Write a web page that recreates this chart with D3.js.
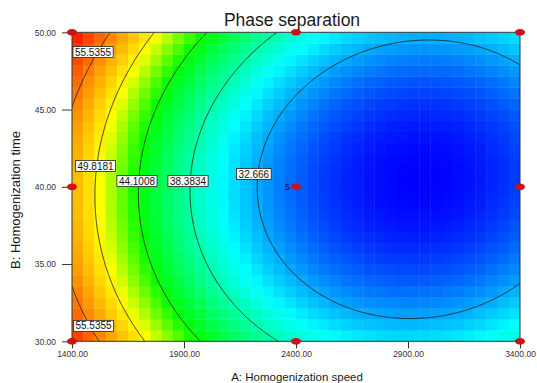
<!DOCTYPE html>
<html><head><meta charset="utf-8">
<script src="https://cdn.jsdelivr.net/npm/d3@7"></script>
<style>
html,body{margin:0;padding:0;background:#fff;}
svg{display:block;font-family:"Liberation Sans",Arial,sans-serif;}
</style></head><body>
<svg id="chart" width="537" height="383"></svg>
<script>
const chartTitle = "Phase separation";
const xTitle = "A: Homogenization speed";
const yTitle = "B: Homogenization time";
const xTicks = [1400, 1900, 2400, 2900, 3400];
const yTicks = [30, 35, 40, 45, 50];
const xDomain = [1400, 3400];
const yDomain = [30, 50];
// fitted quadratic response surface (coded units -1..1): [b0, A, A^2, B, B^2, AB]
const surfaceCoef = [30.258, -12.0, 10.93, -0.12, 7.06, -1.03];
const contourLevels = [32.666, 38.3834, 44.1008, 49.8181, 55.5355];
const labelLevels = [55.5355, 55.5355, 49.8181, 44.1008, 38.3834, 32.666];
const labelA = [1494, 1496, 1505, 1690, 1918, 2212];
const labelB = [48.72, 31.0, 41.35, 40.37, 40.37, 40.83];
const designA = [1400, 1400, 1400, 2400, 2400, 2400, 3400, 3400, 3400];
const designB = [30, 40, 50, 30, 40, 50, 30, 40, 50];
const designReps = [1, 1, 1, 1, 5, 1, 1, 1, 1];
const gridCols = 40, gridRows = 28;
const paletteStops = [0, 0.25, 0.5, 0.65, 1];
const paletteHues = [240, 180, 120, 60, 0];

const svg = d3.select("#chart");
const L = 72, R = 520, T = 32.3, B = 341.3;
const x = d3.scaleLinear().domain(xDomain).range([L, R]);
const y = d3.scaleLinear().domain(yDomain).range([B, T]);

const codeA = v => (v - (xDomain[0] + xDomain[1]) / 2) / ((xDomain[1] - xDomain[0]) / 2);
const codeB = v => (v - (yDomain[0] + yDomain[1]) / 2) / ((yDomain[1] - yDomain[0]) / 2);
function resp(A, Bv) {
  const a = codeA(A), b = codeB(Bv), c = surfaceCoef;
  return c[0] + c[1]*a + c[2]*a*a + c[3]*b + c[4]*b*b + c[5]*a*b;
}
const step = contourLevels[1] - contourLevels[0];
const vMin = contourLevels[0] - step, vMax = contourLevels[contourLevels.length-1] + step;
const norm = d3.scaleLinear().domain([vMin, vMax]).range([0, 1]).clamp(true);
const hue = d3.scaleLinear().domain(paletteStops).range(paletteHues).clamp(true);
const fill = v => d3.hsl(hue(norm(v)), 1, 0.5).toString();

const defs = svg.append("defs");
defs.append("clipPath").attr("id", "plotClip").append("rect")
  .attr("x", L).attr("y", T).attr("width", R - L).attr("height", B - T);

// heat cells
const cells = [];
const dA = (xDomain[1] - xDomain[0]) / gridCols, dB = (yDomain[1] - yDomain[0]) / gridRows;
for (let i = 0; i < gridCols; i++) for (let j = 0; j < gridRows; j++) {
  const a0 = xDomain[0] + i * dA, b0 = yDomain[0] + j * dB;
  cells.push({a0, a1: a0 + dA, b0, b1: b0 + dB, v: resp(a0 + dA/2, b0 + dB/2)});
}
const plot = svg.append("g").attr("clip-path", "url(#plotClip)");
plot.append("g").selectAll("rect").data(cells).join("rect")
  .attr("x", d => x(d.a0)).attr("y", d => y(d.b1))
  .attr("width", d => x(d.a1) - x(d.a0) + 0.4)
  .attr("height", d => y(d.b0) - y(d.b1) + 0.4)
  .attr("fill", d => fill(d.v));

// contour lines
const n = 240, m = 180;
const ext = 0.05;
const gA0 = xDomain[0] - ext*(xDomain[1]-xDomain[0]), gA1 = xDomain[1] + ext*(xDomain[1]-xDomain[0]);
const gB0 = yDomain[1] + ext*(yDomain[1]-yDomain[0]), gB1 = yDomain[0] - ext*(yDomain[1]-yDomain[0]);
const gx = d3.scaleLinear().domain([0, n]).range([gA0, gA1]);
const gy = d3.scaleLinear().domain([0, m]).range([gB0, gB1]);
const vals = new Array(n * m);
for (let j = 0; j < m; j++) for (let i = 0; i < n; i++) vals[j*n + i] = resp(gx(i + 0.5), gy(j + 0.5));
const contours = d3.contours().size([n, m]).thresholds(contourLevels)(vals);
const proj = d3.geoTransform({point: function(px, py) { this.stream.point(x(gx(px)), y(gy(py))); }});
const path = d3.geoPath(proj);
plot.append("g").selectAll("path").data(contours).join("path")
  .attr("d", path).attr("fill", "none").attr("stroke", "#1a1a1a").attr("stroke-width", 0.8);

// frame
svg.append("rect").attr("x", L).attr("y", T).attr("width", R - L).attr("height", B - T)
  .attr("fill", "none").attr("stroke", "#2a3a3a").attr("stroke-width", 1);

// axes
const xAxis = svg.append("g").attr("transform", `translate(0,${B})`)
  .call(d3.axisBottom(x).tickValues(xTicks).tickFormat(d3.format(".2f")).tickSize(7).tickSizeOuter(0).tickPadding(3));
const yAxis = svg.append("g").attr("transform", `translate(${L},0)`)
  .call(d3.axisLeft(y).tickValues(yTicks).tickFormat(d3.format(".2f")).tickSize(10).tickSizeOuter(0).tickPadding(6));
[xAxis, yAxis].forEach(g => {
  g.select(".domain").remove();
  g.selectAll("line").attr("stroke", "#333");
  g.selectAll("text").attr("font-size", 8.5).attr("fill", "#333").attr("font-family", "Liberation Sans, Arial, sans-serif");
});

// contour labels
const lab = svg.append("g");
labelLevels.forEach((lv, k) => {
  const cx = x(labelA[k]), cy = y(labelB[k]);
  const g = lab.append("g");
  const t = g.append("text").attr("x", cx).attr("y", cy + 3.6).attr("text-anchor", "middle")
    .attr("font-size", 10).attr("fill", "#111").text(String(lv));
  const w = t.node().getComputedTextLength() + 4;
  g.insert("rect", "text").attr("x", cx - w/2).attr("y", cy - 5.5).attr("width", w).attr("height", 11)
    .attr("fill", "#fff").attr("stroke", "#222").attr("stroke-width", 0.8);
});

// design points
const pts = designA.map((a, k) => ({a, b: designB[k], r: designReps[k]}));
svg.append("g").selectAll("ellipse").data(pts).join("ellipse")
  .attr("cx", d => x(d.a)).attr("cy", d => y(d.b)).attr("rx", 5).attr("ry", 3.3)
  .attr("fill", "#d01018");
svg.append("g").selectAll("text").data(pts.filter(d => d.r > 1)).join("text")
  .attr("x", d => x(d.a) - 6).attr("y", d => y(d.b) + 3).attr("text-anchor", "end")
  .attr("font-size", 9).attr("fill", "#101040").text(d => d.r);

// titles
svg.append("text").attr("x", 292).attr("y", 26).attr("text-anchor", "middle")
  .attr("font-size", 17.5).attr("fill", "#1a1a1a").text(chartTitle);
svg.append("text").attr("x", 297).attr("y", 381).attr("text-anchor", "middle")
  .attr("font-size", 11.5).attr("fill", "#1a1a1a").text(xTitle);
svg.append("text").attr("transform", "translate(20,200) rotate(-90)").attr("text-anchor", "middle")
  .attr("font-size", 13).attr("fill", "#1a1a1a").text(yTitle);
</script>
</body></html>
